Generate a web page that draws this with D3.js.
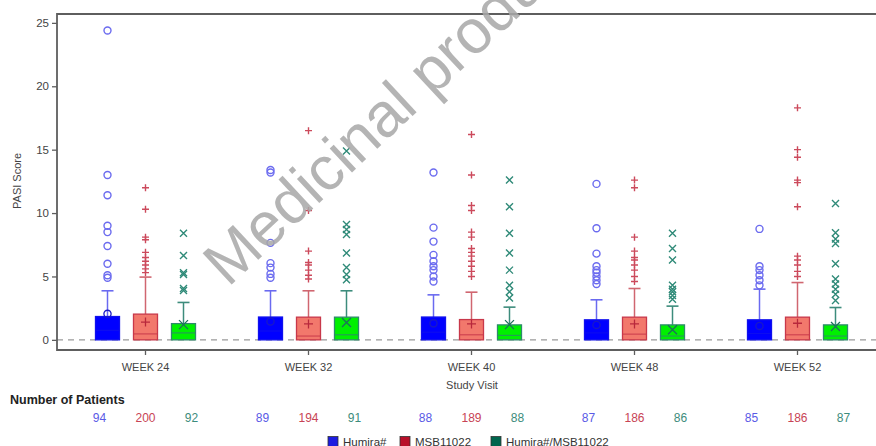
<!DOCTYPE html>
<html>
<head>
<meta charset="utf-8">
<script src="https://cdn.jsdelivr.net/npm/d3@7"></script>
<style>
  html, body { margin: 0; padding: 0; background: #fff; }
  svg { display: block; font-family: "Liberation Sans", Arial, sans-serif; }
</style>
</head>
<body>
<svg id="chart" width="876" height="446"></svg>
<script>
// Study visits and treatment arms
const visits = ["WEEK 24", "WEEK 32", "WEEK 40", "WEEK 48", "WEEK 52"];
const treatments = ["Humira#", "MSB11022", "Humira#/MSB11022"];
const yTicks = [0, 5, 10, 15, 20, 25];

// Humira# — box statistics per visit
const humiraQ1 = [0, 0, 0, 0, 0];
const humiraMedian = [0.75, 0.7, 0.6, 0.55, 0.5];
const humiraQ3 = [1.84, 1.8, 1.8, 1.58, 1.58];
const humiraWhisker = [3.87, 3.87, 3.55, 3.16, 4.0];
const humiraMean = [2.05, 1.45, 1.3, 1.18, 1.1];
const humiraOutliers = [
  [24.4, 13.0, 11.4, 9.0, 8.5, 7.4, 6.0, 5.1, 4.9],
  [13.4, 13.2, 7.65, 6.05, 5.7, 5.2, 4.9],
  [13.2, 8.85, 7.75, 6.7, 6.2, 5.8, 5.5, 5.0, 4.6],
  [12.3, 8.8, 6.8, 5.8, 5.5, 5.3, 5.0, 4.7, 4.4],
  [8.75, 5.8, 5.5, 5.1, 4.7, 4.3]
];
const humiraN = [94, 89, 88, 87, 85];

// MSB11022
const msbQ1 = [0, 0, 0, 0, 0];
const msbMedian = [0.47, 0.3, 0.4, 0.45, 0.4];
const msbQ3 = [2.03, 1.79, 1.6, 1.79, 1.79];
const msbWhisker = [4.95, 3.87, 3.76, 4.05, 4.52];
const msbMean = [1.4, 1.26, 1.26, 1.26, 1.31];
const msbOutliers = [
  [12.0, 10.3, 8.1, 7.9, 6.9, 6.5, 6.2, 5.9, 5.6, 5.3],
  [16.5, 10.2, 7.0, 6.1, 5.9, 5.5, 5.1, 4.8],
  [16.2, 13.0, 10.6, 10.2, 8.5, 8.1, 7.2, 6.9, 6.6, 6.2, 5.8, 5.4, 5.0],
  [12.6, 12.0, 8.1, 7.0, 6.5, 6.3, 5.9, 5.5, 5.0, 4.6],
  [18.3, 15.0, 14.4, 12.6, 12.4, 10.5, 6.6, 6.3, 5.9, 5.4, 5.0]
];
const msbN = [200, 194, 189, 186, 186];

// Humira#/MSB11022 (switch arm)
const switchQ1 = [0, 0, 0, 0, 0];
const switchMedian = [0.55, 0.4, 0.35, 0.3, 0.3];
const switchQ3 = [1.28, 1.79, 1.18, 1.18, 1.18];
const switchWhisker = [2.95, 3.87, 2.58, 2.66, 2.55];
const switchMean = [1.2, 1.37, 1.2, 0.8, 1.05];
const switchOutliers = [
  [8.4, 6.65, 5.3, 5.15, 4.05, 3.9],
  [14.9, 9.1, 8.7, 8.3, 6.85, 5.7, 5.15, 4.75],
  [12.6, 10.5, 8.4, 6.85, 5.5, 4.3, 3.8, 3.3],
  [8.4, 7.2, 6.3, 4.3, 4.0, 3.8, 3.5, 3.2],
  [10.75, 8.45, 7.95, 7.6, 6.0, 4.8, 4.4, 4.0, 3.6, 3.1]
];
const switchN = [92, 91, 88, 86, 87];

// Per-arm styling
const styles = [
  { fill: "#0000ff", stroke: "#1010ee", whisker: "#6a6af0", marker: "#6b6bef", mean: "#1818c8", text: "#5a5ae6", key: "#1c1ce0", symbol: "circle" },
  { fill: "#f2786c", stroke: "#c8384a", whisker: "#d06670", marker: "#cc4a5c", mean: "#b8283c", text: "#c84455", key: "#b8102a", symbol: "plus" },
  { fill: "#00f000", stroke: "#2e8a6c", whisker: "#3d8c7c", marker: "#2f8a78", mean: "#1d6e5c", text: "#3d8c7c", key: "#00664e", symbol: "cross" }
];

const arms = [
  { q1: humiraQ1, med: humiraMedian, q3: humiraQ3, hi: humiraWhisker, mean: humiraMean, out: humiraOutliers, n: humiraN },
  { q1: msbQ1, med: msbMedian, q3: msbQ3, hi: msbWhisker, mean: msbMean, out: msbOutliers, n: msbN },
  { q1: switchQ1, med: switchMedian, q3: switchQ3, hi: switchWhisker, mean: switchMean, out: switchOutliers, n: switchN }
];

const svg = d3.select("#chart");
const frame = { left: 57, right: 880, top: 14, bottom: 350 };

const x = d3.scaleBand().domain(visits).range([64, 879]).padding(0);
const xArm = d3.scalePoint().domain(treatments).range([-38, 38]);
const xCount = d3.scalePoint().domain(treatments).range([-46, 46]);
const y = d3.scaleLinear().domain([-0.8, 25.7]).range([frame.bottom, frame.top]);

const boxW = 24, capW = 12;
const cx = (v, t) => x(v) + x.bandwidth() / 2 + xArm(t);

// Reference line at zero
svg.append("line")
  .attr("x1", frame.left).attr("x2", frame.right)
  .attr("y1", y(0)).attr("y2", y(0))
  .attr("stroke", "#9a9a9a").attr("stroke-width", 1.3)
  .attr("stroke-dasharray", "6,5");

// Symbol path generators
function symbolPath(kind, s) {
  if (kind === "plus") return `M${-s},0H${s}M0,${-s}V${s}`;
  if (kind === "cross") return `M${-s},${-s}L${s},${s}M${-s},${s}L${s},${-s}`;
  return null;
}
function drawSymbol(g, kind, px, py, color, size, width) {
  if (kind === "circle") {
    g.append("circle").attr("cx", px).attr("cy", py).attr("r", size)
      .attr("fill", "none").attr("stroke", color).attr("stroke-width", width);
  } else {
    g.append("path").attr("transform", `translate(${px},${py})`)
      .attr("d", symbolPath(kind, size))
      .attr("fill", "none").attr("stroke", color).attr("stroke-width", width);
  }
}

// Boxes, whiskers, means and outliers
const marks = svg.append("g");
treatments.forEach((t, ti) => {
  const a = arms[ti], st = styles[ti];
  visits.forEach((v, vi) => {
    const c = cx(v, t);
    const g = marks.append("g");
    // whisker
    g.append("line").attr("x1", c).attr("x2", c)
      .attr("y1", y(a.q3[vi])).attr("y2", y(a.hi[vi]))
      .attr("stroke", st.whisker).attr("stroke-width", 1.5);
    g.append("line").attr("x1", c - capW / 2).attr("x2", c + capW / 2)
      .attr("y1", y(a.hi[vi])).attr("y2", y(a.hi[vi]))
      .attr("stroke", st.whisker).attr("stroke-width", 1.6);
    // box
    g.append("rect")
      .attr("x", c - boxW / 2).attr("width", boxW)
      .attr("y", y(a.q3[vi])).attr("height", y(a.q1[vi]) - y(a.q3[vi]))
      .attr("fill", st.fill).attr("stroke", st.stroke).attr("stroke-width", 1.3);
    // median
    g.append("line").attr("x1", c - boxW / 2).attr("x2", c + boxW / 2)
      .attr("y1", y(a.med[vi])).attr("y2", y(a.med[vi]))
      .attr("stroke", st.stroke).attr("stroke-width", 1.2).attr("opacity", 0.8);
    // mean
    drawSymbol(g, st.symbol, c, y(a.mean[vi]), st.mean, st.symbol === "circle" ? 3.6 : 4.5, 1.3);
    // outliers
    a.out[vi].forEach(o => drawSymbol(g, st.symbol, c, y(o), st.marker, 3.5, 1.4));
  });
});

// Frame
const axisColor = "#5e5e5e";
svg.append("path")
  .attr("d", `M${frame.right},${frame.top}H${frame.left}V${frame.bottom}H${frame.right}`)
  .attr("fill", "none").attr("stroke", axisColor).attr("stroke-width", 1.8);

// Y axis
const yAxis = svg.append("g").attr("transform", `translate(${frame.left},0)`)
  .call(d3.axisLeft(y).tickValues(yTicks).tickSize(5).tickPadding(3));
yAxis.select(".domain").remove();
yAxis.selectAll(".tick line").attr("stroke", axisColor).attr("stroke-width", 1.3);
yAxis.selectAll(".tick text").attr("fill", "#444").style("font-size", "11.5px")
  .style("font-family", "'Liberation Sans', Arial, sans-serif");

svg.append("text")
  .attr("transform", `translate(21,${(y(0) + frame.top) / 2 + 4}) rotate(-90)`)
  .attr("text-anchor", "middle").attr("fill", "#444").style("font-size", "11px")
  .text("PASI Score");

// X axis
const xAxis = svg.append("g").attr("transform", `translate(0,${frame.bottom})`)
  .call(d3.axisBottom(x).tickSize(5).tickPadding(8));
xAxis.select(".domain").remove();
xAxis.selectAll(".tick line").attr("stroke", axisColor).attr("stroke-width", 1.3);
xAxis.selectAll(".tick text").attr("fill", "#444").style("font-size", "11px")
  .style("font-family", "'Liberation Sans', Arial, sans-serif");

svg.append("text")
  .attr("x", 472).attr("y", 389).attr("text-anchor", "middle")
  .attr("fill", "#444").style("font-size", "11px").text("Study Visit");

// Patient counts
svg.append("text").attr("x", 10).attr("y", 404)
  .attr("fill", "#222").style("font-size", "12.5px").style("font-weight", "bold")
  .text("Number of Patients");
treatments.forEach((t, ti) => {
  svg.append("g").selectAll("text").data(visits).join("text")
    .attr("x", v => x(v) + x.bandwidth() / 2 + xCount(t))
    .attr("y", 422).attr("text-anchor", "middle")
    .attr("fill", styles[ti].text).style("font-size", "12px")
    .text((v, vi) => arms[ti].n[vi]);
});

// Legend
const legendX = [328, 400, 491];
const legend = svg.append("g");
treatments.forEach((t, ti) => {
  legend.append("rect").attr("x", legendX[ti]).attr("y", 436.5)
    .attr("width", 10).attr("height", 10)
    .attr("fill", styles[ti].key).attr("stroke", "#333").attr("stroke-width", 0.8);
  legend.append("text").attr("x", legendX[ti] + 15).attr("y", 445.5)
    .attr("fill", "#333").style("font-size", "11.5px").text(t);
});

// Watermark
svg.append("text")
  .attr("transform", "translate(228,288) rotate(-43)")
  .attr("fill", "#a8a8a8").attr("opacity", 0.85)
  .style("font-size", "62px")
  .text("Medicinal product no longer authorised");
</script>
</body>
</html>
